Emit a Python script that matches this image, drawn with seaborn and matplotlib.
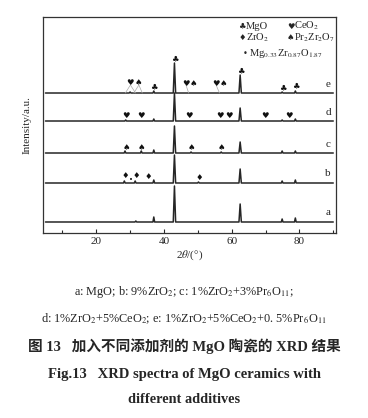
import numpy as np
import pandas as pd
import matplotlib
matplotlib.use('Agg')
import matplotlib.pyplot as plt
import seaborn as sns

# XRD patterns (2theta in deg, intensity in arbitrary units)
samples = ['a', 'b', 'c', 'd', 'e']
offsets = [11, 50, 80, 112, 140]

peaks_a = [31.7, 37.0, 43.1, 62.5, 74.9, 78.8]
heights_a = [1, 5, 36, 18, 3, 4]
peaks_b = [28.3, 31.5, 37.0, 43.1, 50.2, 62.5, 74.9, 78.8]
heights_b = [2, 2, 3, 28, 1, 14, 2, 3]
peaks_c = [28.5, 33.3, 37.0, 43.1, 48.0, 56.9, 62.5, 74.9, 78.8]
heights_c = [2, 2, 3, 27, 1, 1, 11, 2, 2]
peaks_d = [28.7, 37.0, 43.1, 62.5, 74.9, 78.8]
heights_d = [1, 2, 28, 13, 1, 2]
peaks_e = [30.0, 37.0, 43.1, 62.5, 74.9, 78.8]
heights_e = [1, 2, 30, 18, 1, 2]

# phase markers: position, symbol, height above baseline
mk_b = [28.5, 30.4, 31.7, 35.3, 50.4]
sym_b = ['♦', '•', '♦', '♦', '♦']
hy_b = [7, 3, 7, 6, 5]
mk_c = [28.9, 33.4, 48.2, 57.0]
sym_c = ['♠', '♠', '♠', '♠']
hy_c = [6, 6, 6, 6]
mk_d = [28.9, 33.2, 47.5, 56.5, 59.3, 69.9, 77.0]
sym_d = ['♥', '♥', '♥', '♥', '♥', '♥', '♥']
hy_d = [6, 6, 6, 6, 6, 6, 6]
mk_e = [30.1, 32.6, 37.1, 43.1, 46.5, 48.6, 55.4, 57.5, 62.6, 75.1, 79.0]
sym_e = ['♥', '♠', '♣', '♣', '♥', '♠', '♥', '♠', '♣', '♣', '♣']
hy_e = [11, 11, 6, 34, 10, 10, 10, 10, 22, 5, 7]

legend_names = ['MgO', 'CeO$_2$', 'ZrO$_2$', 'Pr$_2$Zr$_2$O$_7$',
                'Mg$_{0.33}$Zr$_{0.87}$O$_{1.87}$']
legend_syms = ['♣', '♥', '♦', '♠', '•']

peaks = [peaks_a, peaks_b, peaks_c, peaks_d, peaks_e]
heights = [heights_a, heights_b, heights_c, heights_d, heights_e]
markers = {'b': (mk_b, sym_b, hy_b), 'c': (mk_c, sym_c, hy_c),
           'd': (mk_d, sym_d, hy_d), 'e': (mk_e, sym_e, hy_e)}

rows = []
for s, off, pk, hh in zip(samples, offsets, peaks, heights):
    rows.append((s, 5.0, off))
    for p, h in zip(pk, hh):
        w = 0.35 if h > 5 else 0.25
        rows.append((s, p - w, off))
        rows.append((s, p, off + h))
        rows.append((s, p + w, off))
    rows.append((s, 90.0, off))
df = pd.DataFrame(rows, columns=['sample', 'two_theta', 'intensity'])

sns.set_style('ticks')
plt.rcParams['font.family'] = ['Liberation Serif', 'DejaVu Sans']
plt.rcParams['mathtext.fontset'] = 'stix'

fig = plt.figure(figsize=(3.68, 4.18), dpi=100)
ax = fig.add_axes([0.117, 0.4426, 0.796, 0.5167])

sns.lineplot(data=df, x='two_theta', y='intensity', hue='sample',
             palette={s: '#262626' for s in samples}, estimator=None,
             sort=False, legend=False, linewidth=1.1, ax=ax)

ax.set_xlim(4.3, 90.8)
ax.set_ylim(0, 216)
ax.set_xticks([20, 40, 60, 80])
ax.set_xticks([10, 30, 50, 70, 90], minor=True)
ax.set_yticks([])
ax.tick_params(axis='x', direction='in', length=3, width=0.8, labelsize=8, pad=3)
ax.tick_params(axis='x', which='minor', direction='in', length=2, width=0.8)
for sp in ax.spines.values():
    sp.set_linewidth(0.9)
    sp.set_color('#333333')
ax.set_xlabel(r'2$\theta$/(°)', fontsize=8, labelpad=2)
ax.set_ylabel('Intensity/a.u.', fontsize=8, labelpad=8)

for s, off in zip(samples, offsets):
    ax.text(88.5, off + 9, s, fontsize=8, ha='center', va='center')
    if s in markers:
        pos, sym, hy = markers[s]
        for p, m, h in zip(pos, sym, hy):
            ax.text(p, off + h, m, fontsize=6 if m != '•' else 5,
                    ha='center', va='center',
                    family=['DejaVu Sans'], color='#111111')

# leader lines on pattern e
for p, dx in [(30.1, -1.5), (30.1, 1.5), (32.6, -1.5), (32.6, 1.0),
              (46.5, 0.8), (55.4, 1.0)]:
    ax.plot([p, p + dx], [offsets[4] + 8, offsets[4]], color='#aaaaaa', lw=0.5)

# legend block
lx = [0.68, 0.845, 0.68, 0.845, 0.69]
ly = [0.958, 0.958, 0.903, 0.903, 0.833]
for x, y, m, n in zip(lx, ly, legend_syms, legend_names):
    ax.text(x, y, m, transform=ax.transAxes, fontsize=6, ha='center',
            va='center', family=['DejaVu Sans'])
    ax.text(x + 0.013, y, n, transform=ax.transAxes, fontsize=7.6,
            ha='left', va='center')

fig.text(0.5, 0.301, 'a: MgO; b: 9%ZrO$_2$; c: 1%ZrO$_2$+3%Pr$_6$O$_{11}$;',
         ha='center', va='center', fontsize=8.8)
fig.text(0.5, 0.237, 'd: 1%ZrO$_2$+5%CeO$_2$; e: 1%ZrO$_2$+5%CeO$_2$+0. 5%Pr$_6$O$_{11}$',
         ha='center', va='center', fontsize=8.8)
fig.text(0.5, 0.172, '图 13   加入不同添加剂的 MgO 陶瓷的 XRD 结果',
         ha='center', va='center', fontsize=10.5, fontweight='bold',
         family=['Liberation Serif', 'Noto Sans CJK SC'])
fig.text(0.5, 0.105, 'Fig.13   XRD spectra of MgO ceramics with',
         ha='center', va='center', fontsize=10.5, fontweight='bold')
fig.text(0.5, 0.045, 'different additives',
         ha='center', va='center', fontsize=10.3, fontweight='bold')

fig.savefig('out.png', dpi=100)
